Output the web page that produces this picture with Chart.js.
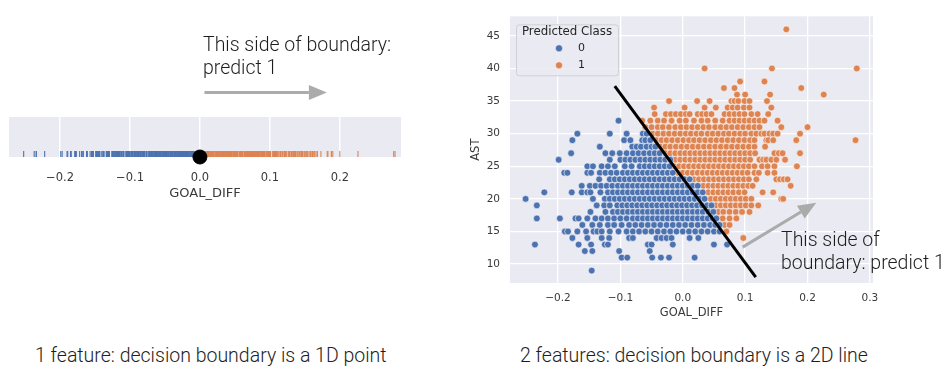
<!DOCTYPE html>
<html>
<head>
<meta charset="utf-8">
<script src="https://cdn.jsdelivr.net/npm/chart.js@4.4.1/dist/chart.umd.min.js"></script>
<style>
  body { margin: 0; background: #fff; width: 949px; height: 375px; overflow: hidden; position: relative; }
  .panel { position: absolute; }
  .note, .caption { position: absolute; font-family: Roboto, sans-serif; font-weight: 300; color: #1e1e1e; white-space: nowrap; }
  .note { font-size: 19.5px; line-height: 23px; }
  .caption { font-size: 19.5px; line-height: 23px; }
</style>
</head>
<body>
<div class="panel" style="left:0; top:0; width:430px; height:202px;"><canvas id="rugChart"></canvas></div>
<div class="panel" style="left:460px; top:0; width:489px; height:330px;"><canvas id="scatterChart"></canvas></div>

<div class="note" style="left:203px; top:33px;">This side of boundary:<br>predict 1</div>
<div class="note" style="left:781px; top:228px;">This side of<br>boundary: predict 1</div>
<div class="caption" style="left:35px; top:344px;">1 feature: decision boundary is a 1D point</div>
<div class="caption" style="left:520px; top:344px;">2 features: decision boundary is a 2D line</div>

<script>
// AST values (one row of points per value) and GOAL_DIFF of each point, split by predicted class
const astLevels = [46, 40, 38, 37, 36, 35, 34, 33, 32, 31, 30, 29, 28, 27, 26, 25, 24, 23, 22, 21, 20, 19, 18, 17, 16, 15, 14, 13, 12, 11, 9];

const class0Rows = [
  [], [], [], [], [], [], [], [],
  [-0.103],
  [],
  [-0.169, -0.117, -0.090, -0.064, -0.058],
  [-0.177, -0.094, -0.084, -0.065, -0.060, -0.052],
  [-0.133, -0.081, -0.074, -0.067, -0.058, -0.050, -0.044],
  [-0.179, -0.124, -0.113, -0.101, -0.090, -0.080, -0.071, -0.062, -0.053, -0.045, -0.037],
  [-0.199, -0.117, -0.100, -0.092, -0.084, -0.076, -0.068, -0.060, -0.052, -0.044, -0.036, -0.028, -0.020],
  [-0.153, -0.144, -0.130, -0.120, -0.109, -0.093, -0.082, -0.069, -0.061, -0.053, -0.045, -0.037, -0.029, -0.021],
  [-0.190, -0.185, -0.153, -0.147, -0.133, -0.124, -0.115, -0.106, -0.096, -0.088, -0.080, -0.072, -0.064, -0.056, -0.048, -0.040, -0.032, -0.024, -0.016],
  [-0.134, -0.117, -0.109, -0.101, -0.093, -0.085, -0.077, -0.069, -0.061, -0.053, -0.045, -0.037, -0.029, -0.021, -0.013, -0.005, 0.003, 0.011],
  [-0.162, -0.149, -0.140, -0.131, -0.122, -0.113, -0.104, -0.096, -0.088, -0.080, -0.072, -0.064, -0.056, -0.048, -0.040, -0.032, -0.024, -0.016, -0.008, 0.000, 0.008, 0.016, 0.024],
  [-0.222, -0.178, -0.162, -0.153, -0.148, -0.132, -0.120, -0.112, -0.104, -0.096, -0.088, -0.080, -0.072, -0.064, -0.056, -0.048, -0.040, -0.032, -0.024, -0.016, -0.008, 0.000, 0.008, 0.016, 0.024, 0.032],
  [-0.252, -0.144, -0.125, -0.117, -0.109, -0.101, -0.093, -0.085, -0.077, -0.069, -0.061, -0.053, -0.045, -0.037, -0.029, -0.021, -0.013, -0.005, 0.003, 0.011, 0.019, 0.027, 0.035],
  [-0.234, -0.138, -0.126, -0.117, -0.105, -0.097, -0.089, -0.081, -0.073, -0.065, -0.057, -0.049, -0.041, -0.033, -0.025, -0.017, -0.009, -0.001, 0.007, 0.015, 0.023, 0.031, 0.039, 0.046],
  [-0.148, -0.124, -0.112, -0.104, -0.096, -0.088, -0.080, -0.072, -0.064, -0.056, -0.048, -0.040, -0.032, -0.024, -0.016, -0.008, 0.000, 0.008, 0.016, 0.024, 0.032, 0.041, 0.049],
  [-0.234, -0.197, -0.172, -0.167, -0.153, -0.140, -0.130, -0.120, -0.110, -0.100, -0.090, -0.080, -0.072, -0.064, -0.056, -0.048, -0.040, -0.032, -0.024, -0.016, -0.008, 0.000, 0.008, 0.016, 0.024, 0.032, 0.040, 0.048, 0.054],
  [-0.161, -0.145, -0.133, -0.120, -0.110, -0.098, -0.086, -0.076, -0.066, -0.056, -0.046, -0.036, -0.026, -0.016, -0.006, 0.004, 0.014, 0.024, 0.034, 0.044, 0.052, 0.059],
  [-0.189, -0.184, -0.169, -0.155, -0.143, -0.137, -0.130, -0.117, -0.103, -0.090, -0.080, -0.070, -0.060, -0.050, -0.040, -0.030, -0.020, -0.010, 0.000, 0.010, 0.020, 0.030, 0.040, 0.050, 0.059],
  [-0.177, -0.153, -0.130, -0.118, -0.086, -0.080, -0.042, -0.034, -0.026, -0.018, 0.011, 0.025],
  [-0.237, -0.167, -0.147, -0.125, -0.120, -0.056, -0.050, -0.016, 0.050, 0.071],
  [-0.157, -0.145, -0.102, -0.053],
  [-0.098, -0.089, -0.049, -0.035, -0.022, 0.019],
  [-0.146]
];

const class1Rows = [
  [0.166],
  [0.035, 0.143, 0.279],
  [0.092, 0.131],
  [0.066, 0.083, 0.190],
  [0.087, 0.100, 0.140, 0.226],
  [-0.022, 0.023, 0.043, 0.078, 0.083, 0.089, 0.099, 0.107, 0.135],
  [-0.046, 0.003, 0.035, 0.053, 0.072, 0.080, 0.088, 0.098, 0.107, 0.142],
  [-0.045, -0.027, -0.019, -0.011, -0.003, 0.005, 0.011, 0.024, 0.031, 0.038, 0.046, 0.067, 0.075, 0.083, 0.091, 0.099, 0.110, 0.120, 0.137],
  [-0.065, -0.052, -0.040, -0.030, -0.018, -0.005, 0.005, 0.018, 0.030, 0.040, 0.052, 0.064, 0.075, 0.083, 0.091, 0.099, 0.107, 0.115, 0.123, 0.131, 0.152],
  [-0.060, -0.050, -0.040, -0.032, -0.022, -0.012, -0.003, 0.006, 0.015, 0.024, 0.033, 0.042, 0.052, 0.061, 0.070, 0.079, 0.088, 0.097, 0.106, 0.115, 0.123, 0.158, 0.200],
  [-0.048, -0.040, -0.031, -0.022, -0.013, -0.004, 0.005, 0.013, 0.022, 0.030, 0.040, 0.048, 0.057, 0.066, 0.074, 0.083, 0.092, 0.100, 0.110, 0.118, 0.126, 0.131, 0.139, 0.145, 0.152, 0.188],
  [-0.042, -0.034, -0.026, -0.017, -0.008, 0.001, 0.010, 0.018, 0.027, 0.036, 0.045, 0.054, 0.063, 0.072, 0.081, 0.090, 0.099, 0.108, 0.115, 0.134, 0.137, 0.145, 0.182, 0.277],
  [-0.036, -0.028, -0.020, -0.011, -0.002, 0.007, 0.016, 0.025, 0.034, 0.043, 0.052, 0.061, 0.070, 0.079, 0.088, 0.097, 0.106, 0.115, 0.132],
  [-0.028, -0.020, -0.012, -0.004, 0.004, 0.012, 0.020, 0.028, 0.036, 0.044, 0.052, 0.060, 0.068, 0.076, 0.084, 0.092, 0.100, 0.108, 0.116, 0.147, 0.154, 0.160, 0.188],
  [-0.012, -0.004, 0.004, 0.012, 0.020, 0.028, 0.036, 0.044, 0.052, 0.060, 0.068, 0.076, 0.084, 0.092, 0.100, 0.108, 0.123, 0.129, 0.134, 0.142, 0.150, 0.164],
  [-0.014, -0.006, 0.002, 0.010, 0.018, 0.026, 0.034, 0.042, 0.050, 0.058, 0.066, 0.074, 0.082, 0.090, 0.098, 0.106, 0.115, 0.127, 0.136, 0.147, 0.183],
  [-0.008, 0.000, 0.008, 0.016, 0.024, 0.032, 0.040, 0.048, 0.056, 0.064, 0.072, 0.080, 0.088, 0.096, 0.104, 0.115, 0.122, 0.136, 0.147],
  [0.018, 0.026, 0.034, 0.042, 0.050, 0.058, 0.066, 0.074, 0.082, 0.090, 0.098, 0.106, 0.118, 0.150, 0.156, 0.162, 0.168],
  [0.033, 0.041, 0.049, 0.057, 0.065, 0.073, 0.081, 0.089, 0.097, 0.105, 0.112, 0.173],
  [0.041, 0.049, 0.057, 0.065, 0.073, 0.081, 0.090, 0.099, 0.128, 0.145],
  [0.045, 0.053, 0.061, 0.069, 0.077, 0.085, 0.093, 0.101, 0.110, 0.158, 0.161],
  [0.053, 0.061, 0.069, 0.077, 0.085, 0.093, 0.101, 0.110, 0.121],
  [0.057, 0.065, 0.075, 0.085, 0.095, 0.107],
  [0.064, 0.075, 0.086],
  [0.067, 0.075],
  [0.070],
  [0.097],
  [], [], [], []
];

const classLabels = ['0', '1'];
const legendTitle = 'Predicted Class';

// decision boundaries
const boundary1D = 0.0;
const boundaryLine = [{ x: -0.109, y: 37.3 }, { x: 0.117, y: 8.0 }];

// "this side" arrows (data units)
const rugArrow = { from: 0.0065, to: 0.1815 };
const scatterArrow = { from: { x: 0.096, y: 12.6 }, to: { x: 0.214, y: 19.4 } };

const xTickValues = [-0.2, -0.1, 0.0, 0.1, 0.2, 0.3];
const astTickValues = [10, 15, 20, 25, 30, 35, 40, 45];

const blue = '#4C72B0';
const orange = '#DD8452';
const panelBg = '#EAEAF2';
const tickColor = '#3a3a3a';

function rowsToPoints(rows) {
  const pts = [];
  rows.forEach((row, i) => row.forEach(x => pts.push({ x: x, y: astLevels[i] })));
  return pts;
}
const class0Points = rowsToPoints(class0Rows);
const class1Points = rowsToPoints(class1Rows);

// 1D view: every GOAL_DIFF on one line, coloured by which side of the boundary it falls
const rugLevel = 0.075;
const allGoalDiff = class0Points.concat(class1Points).map(p => p.x);
const rugLeft = allGoalDiff.filter(x => x < boundary1D).map(x => ({ x: x, y: rugLevel }));
const rugRight = allGoalDiff.filter(x => x >= boundary1D).map(x => ({ x: x, y: rugLevel }));

const fmtTick = v => Number(v).toFixed(1).replace('-', '\u2212');

const panelBackground = {
  id: 'panelBackground',
  beforeDraw(chart) {
    const { ctx, chartArea: a } = chart;
    ctx.save();
    ctx.fillStyle = panelBg;
    ctx.fillRect(a.left, a.top, a.right - a.left, a.bottom - a.top);
    ctx.restore();
  }
};

function drawArrow(ctx, x0, y0, x1, y1) {
  const ang = Math.atan2(y1 - y0, x1 - x0);
  const headLen = 18, headHalf = 7.5;
  const bx = x1 - Math.cos(ang) * headLen, by = y1 - Math.sin(ang) * headLen;
  ctx.save();
  ctx.strokeStyle = '#ababab';
  ctx.fillStyle = '#ababab';
  ctx.lineWidth = 3;
  ctx.beginPath();
  ctx.moveTo(x0, y0);
  ctx.lineTo(bx, by);
  ctx.stroke();
  ctx.beginPath();
  ctx.moveTo(x1, y1);
  ctx.lineTo(bx - Math.sin(ang) * headHalf, by + Math.cos(ang) * headHalf);
  ctx.lineTo(bx + Math.sin(ang) * headHalf, by - Math.cos(ang) * headHalf);
  ctx.closePath();
  ctx.fill();
  ctx.restore();
}

const rugArrowPlugin = {
  id: 'rugArrow',
  afterDraw(chart) {
    const x = chart.scales.x;
    const y = chart.chartArea.top - 24.5;
    drawArrow(chart.ctx, x.getPixelForValue(rugArrow.from), y, x.getPixelForValue(rugArrow.to), y);
  }
};

const scatterExtras = {
  id: 'scatterExtras',
  afterDraw(chart) {
    const { ctx, scales: { x, y }, chartArea: a } = chart;
    drawArrow(ctx,
      x.getPixelForValue(scatterArrow.from.x), y.getPixelForValue(scatterArrow.from.y),
      x.getPixelForValue(scatterArrow.to.x), y.getPixelForValue(scatterArrow.to.y));

    // legend box, top-left inside the plot
    const bx = a.left + 6, by = a.top + 8, bw = 102, bh = 51;
    ctx.save();
    ctx.fillStyle = 'rgba(234,234,242,0.85)';
    ctx.strokeStyle = '#d0d0d6';
    ctx.lineWidth = 1;
    ctx.beginPath();
    ctx.roundRect(bx + 0.5, by + 0.5, bw, bh, 3);
    ctx.fill();
    ctx.stroke();
    ctx.fillStyle = '#262626';
    ctx.font = '11.8px "DejaVu Sans"';
    ctx.textBaseline = 'middle';
    ctx.textAlign = 'center';
    ctx.fillText(legendTitle, bx + bw / 2, by + 8);
    ctx.textAlign = 'left';
    ctx.font = '11px "DejaVu Sans"';
    [blue, orange].forEach((c, i) => {
      const cy = by + 24 + i * 17;
      ctx.beginPath();
      ctx.arc(bx + 43, cy, 3.6, 0, Math.PI * 2);
      ctx.fillStyle = c;
      ctx.fill();
      ctx.strokeStyle = '#fff';
      ctx.lineWidth = 0.6;
      ctx.stroke();
      ctx.fillStyle = '#262626';
      ctx.fillText(classLabels[i], bx + 62, cy);
    });
    ctx.restore();
  }
};

function initCharts() {
  Chart.defaults.font.family = 'DejaVu Sans';
  Chart.defaults.color = tickColor;

  new Chart(document.getElementById('rugChart'), {
    type: 'scatter',
    data: {
      datasets: [
        { data: rugLeft, pointStyle: 'line', pointRotation: 90, pointRadius: 3, pointBorderWidth: 1.1, borderColor: blue, backgroundColor: blue },
        { data: rugRight, pointStyle: 'line', pointRotation: 90, pointRadius: 3, pointBorderWidth: 1.1, borderColor: orange, backgroundColor: orange },
        { data: [{ x: boundary1D, y: 0 }], pointRadius: 7, backgroundColor: '#000', borderColor: '#000', clip: false, order: -1 }
      ]
    },
    options: {
      animation: false,
      responsive: true,
      maintainAspectRatio: false,
      layout: { padding: { left: 9, top: 117, right: 29, bottom: 0 } },
      plugins: { legend: { display: false }, tooltip: { enabled: false } },
      scales: {
        x: {
          type: 'linear', min: -0.273, max: 0.2875,
          afterBuildTicks: s => { s.ticks = xTickValues.filter(v => v <= 0.2875).map(v => ({ value: v })); },
          afterFit: s => { s.height = 45; },
          grid: { color: '#ffffff', lineWidth: 1.5, drawTicks: false },
          border: { display: false },
          ticks: { callback: fmtTick, font: { size: 11.5 }, padding: 14, maxRotation: 0 },
          title: { display: true, text: 'GOAL_DIFF', font: { size: 13 }, padding: { top: 0, bottom: 1 } }
        },
        y: { display: false, min: 0, max: 1 }
      }
    },
    plugins: [panelBackground, rugArrowPlugin]
  });

  new Chart(document.getElementById('scatterChart'), {
    type: 'scatter',
    data: {
      datasets: [
        { label: classLabels[0], data: class0Points, pointRadius: 3.4, pointBorderWidth: 0.6, backgroundColor: blue, borderColor: '#ffffff' },
        { label: classLabels[1], data: class1Points, pointRadius: 3.4, pointBorderWidth: 0.6, backgroundColor: orange, borderColor: '#ffffff' },
        { type: 'line', data: boundaryLine, borderColor: '#000', borderWidth: 3, pointRadius: 0, fill: false, order: -1 }
      ]
    },
    options: {
      animation: false,
      responsive: true,
      maintainAspectRatio: false,
      layout: { padding: { left: 0, top: 12, right: 76, bottom: 0 } },
      plugins: { legend: { display: false }, tooltip: { enabled: false } },
      scales: {
        x: {
          type: 'linear', min: -0.277, max: 0.305,
          afterBuildTicks: s => { s.ticks = xTickValues.map(v => ({ value: v })); },
          afterFit: s => { s.height = 47; },
          grid: { color: '#ffffff', lineWidth: 1.3, drawTicks: false },
          border: { display: false },
          ticks: { callback: fmtTick, font: { size: 10.5 }, padding: 9, maxRotation: 0 },
          title: { display: true, text: 'GOAL_DIFF', font: { size: 11.5 }, padding: { top: 0, bottom: 10 } }
        },
        y: {
          type: 'linear', min: 7.1, max: 48.0,
          afterBuildTicks: s => { s.ticks = astTickValues.map(v => ({ value: v })); },
          afterFit: s => { s.width = 50; },
          grid: { color: '#ffffff', lineWidth: 1.3, drawTicks: false },
          border: { display: false },
          ticks: { font: { size: 10.5 }, padding: 10 },
          title: { display: true, text: 'AST', font: { size: 11.5 }, padding: { top: 9, bottom: 0 } }
        }
      }
    },
    plugins: [panelBackground, scatterExtras]
  });
}

document.addEventListener('DOMContentLoaded', initCharts);
</script>
</body>
</html>
